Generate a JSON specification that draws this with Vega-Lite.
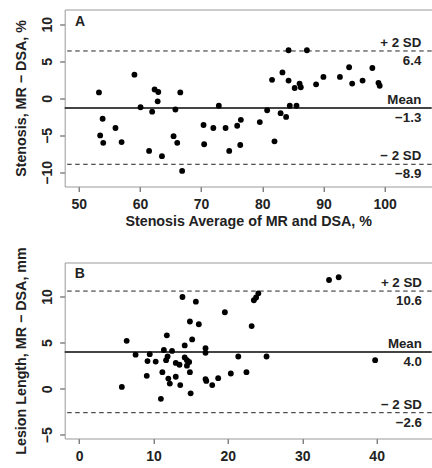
{
  "$schema": "https://vega.github.io/schema/vega-lite/v6.json",
  "padding": {"left": 14.7, "top": 9.5, "right": 0, "bottom": 0},
  "background": "white",
  "spacing": 76,
  "bounds": "flush",
  "config": {
    "font": "Liberation Sans",
    "view": {"stroke": null},
    "axis": {
      "grid": false, "domain": true, "domainColor": "#999", "domainWidth": 1, "tickSize": 5, "tickColor": "#444",
      "labelFont": "Liberation Sans", "labelFontWeight": "bold", "labelFontSize": 14, "labelColor": "#222",
      "titleFont": "Liberation Sans", "titleFontWeight": "bold", "titleFontSize": 14.3, "titleColor": "#222"
    },
    "text": {"font": "Liberation Sans", "fontWeight": "bold", "fontSize": 13.3, "color": "#222"}
  },
  "datasets": {
    "a_pts": [
      {"avg": 53.3, "diff": 0.8}, {"avg": 53.9, "diff": -2.75}, {"avg": 53.5, "diff": -5.0}, {"avg": 54.0, "diff": -6.0},
      {"avg": 56.0, "diff": -4.0}, {"avg": 57.0, "diff": -5.9}, {"avg": 59.1, "diff": 3.2}, {"avg": 60.1, "diff": -1.2},
      {"avg": 61.5, "diff": -7.1}, {"avg": 62.0, "diff": -1.8}, {"avg": 62.4, "diff": 1.2}, {"avg": 63.0, "diff": 0.86},
      {"avg": 62.9, "diff": -0.4}, {"avg": 63.6, "diff": -7.8}, {"avg": 65.5, "diff": -5.1}, {"avg": 65.8, "diff": -1.5},
      {"avg": 66.1, "diff": -6.0}, {"avg": 66.6, "diff": 0.8}, {"avg": 66.9, "diff": -9.8}, {"avg": 70.4, "diff": -3.6},
      {"avg": 70.5, "diff": -6.2}, {"avg": 72.0, "diff": -4.0}, {"avg": 72.9, "diff": -1.0}, {"avg": 74.0, "diff": -4.0},
      {"avg": 74.6, "diff": -7.1}, {"avg": 75.9, "diff": -3.7}, {"avg": 76.4, "diff": -6.3}, {"avg": 76.5, "diff": -2.9},
      {"avg": 79.6, "diff": -3.2}, {"avg": 80.8, "diff": -1.6}, {"avg": 81.6, "diff": 2.5}, {"avg": 82.0, "diff": -5.8},
      {"avg": 83.0, "diff": -2.0}, {"avg": 83.3, "diff": 3.5}, {"avg": 83.9, "diff": -2.5}, {"avg": 84.3, "diff": 6.5},
      {"avg": 84.3, "diff": 2.4}, {"avg": 84.5, "diff": -1.0}, {"avg": 85.3, "diff": 1.4}, {"avg": 85.6, "diff": -1.0},
      {"avg": 86.1, "diff": 2.0}, {"avg": 86.3, "diff": 1.5}, {"avg": 87.3, "diff": 6.5}, {"avg": 88.8, "diff": 1.9},
      {"avg": 90.0, "diff": 2.9}, {"avg": 92.7, "diff": 2.9}, {"avg": 94.2, "diff": 4.2}, {"avg": 94.7, "diff": 2.0},
      {"avg": 96.4, "diff": 2.4}, {"avg": 98.0, "diff": 4.1}, {"avg": 99.0, "diff": 2.1}, {"avg": 99.2, "diff": 1.7}
    ],
    "a_lines": [
      {"value": 6.4, "kind": "sd", "label": "+ 2 SD"},
      {"value": -1.3, "kind": "mean", "label": "Mean"},
      {"value": -8.9, "kind": "sd", "label": "\u2212 2 SD"}
    ],
    "b_pts": [
      {"avg": 5.75, "diff": 0.2}, {"avg": 6.4, "diff": 5.2}, {"avg": 7.6, "diff": 3.7}, {"avg": 9.1, "diff": 1.4},
      {"avg": 9.2, "diff": 3.0}, {"avg": 9.5, "diff": 3.75}, {"avg": 10.3, "diff": 2.95}, {"avg": 11.0, "diff": -1.1},
      {"avg": 11.2, "diff": 1.8}, {"avg": 11.4, "diff": 4.2}, {"avg": 11.7, "diff": 3.1}, {"avg": 11.8, "diff": 5.8},
      {"avg": 11.9, "diff": 3.5}, {"avg": 12.0, "diff": 1.1}, {"avg": 12.2, "diff": 0.56}, {"avg": 12.5, "diff": 4.1},
      {"avg": 13.0, "diff": 2.8}, {"avg": 13.0, "diff": 1.3}, {"avg": 13.5, "diff": 2.6}, {"avg": 13.6, "diff": 0.4},
      {"avg": 13.9, "diff": 9.96}, {"avg": 14.2, "diff": 4.7}, {"avg": 14.2, "diff": 3.4}, {"avg": 14.5, "diff": 3.1},
      {"avg": 14.5, "diff": 2.5}, {"avg": 14.8, "diff": 2.9}, {"avg": 14.9, "diff": 7.3}, {"avg": 14.9, "diff": 1.8},
      {"avg": 15.0, "diff": -0.5}, {"avg": 15.2, "diff": 5.35}, {"avg": 15.7, "diff": 9.45}, {"avg": 16.1, "diff": 7.0},
      {"avg": 17.0, "diff": 4.4}, {"avg": 17.0, "diff": 3.9}, {"avg": 17.0, "diff": 1.05}, {"avg": 17.1, "diff": 0.85},
      {"avg": 17.9, "diff": 0.4}, {"avg": 18.7, "diff": 1.15}, {"avg": 19.6, "diff": 8.3}, {"avg": 20.4, "diff": 1.65},
      {"avg": 21.4, "diff": 3.5}, {"avg": 22.5, "diff": 1.8}, {"avg": 23.2, "diff": 6.8}, {"avg": 23.5, "diff": 9.6},
      {"avg": 23.8, "diff": 9.9}, {"avg": 24.1, "diff": 10.35}, {"avg": 25.2, "diff": 3.5}, {"avg": 33.6, "diff": 11.8},
      {"avg": 34.9, "diff": 12.1}, {"avg": 39.8, "diff": 3.1}
    ],
    "b_lines": [
      {"value": 10.6, "kind": "sd", "label": "+ 2 SD"},
      {"value": 4.0, "kind": "mean", "label": "Mean"},
      {"value": -2.6, "kind": "sd", "label": "\u2212 2 SD"}
    ],
    "a_tag": [{"tag": "A"}],
    "b_tag": [{"tag": "B"}]
  },
  "vconcat": [
    {
      "width": 367,
      "height": 177,
      "resolve": {"axis": {"x": "independent", "y": "independent"}},
      "layer": [
        {"data": {"name": "a_lines"}, "transform": [{"filter": "datum.kind === 'sd'"}],
         "mark": {"type": "rule", "strokeDash": [4.5, 3.5], "color": "#222", "strokeWidth": 1},
         "encoding": {"y": {"field": "value", "type": "quantitative", "scale": {"domain": [-11.9, 12.0], "nice": false, "zero": false}, "axis": null}}},
        {"data": {"name": "a_lines"}, "transform": [{"filter": "datum.kind === 'mean'"}],
         "mark": {"type": "rule", "color": "#444", "strokeWidth": 2},
         "encoding": {"y": {"field": "value", "type": "quantitative", "axis": null}}},
        {"data": {"name": "a_pts"}, "mark": {"type": "point", "filled": true, "color": "black", "opacity": 1, "size": 34},
         "encoding": {
           "x": {"field": "avg", "type": "quantitative", "scale": {"domain": [47.7, 107.7], "nice": false, "zero": false},
                 "axis": {"values": [50, 60, 70, 80, 90, 100], "title": "Stenosis Average of MR and DSA, %", "labelPadding": 6, "titlePadding": 3}},
           "y": {"field": "diff", "type": "quantitative",
                 "axis": {"values": [-10, -5, 0, 5, 10], "title": "Stenosis, MR \u2212 DSA, %", "labelAngle": -90, "labelPadding": 5, "titlePadding": 12}}}},
        {"data": {"name": "a_lines"}, "mark": {"type": "text", "align": "right", "dy": -8},
         "encoding": {"x": {"datum": 106.0, "type": "quantitative", "axis": null}, "y": {"field": "value", "type": "quantitative", "axis": null}, "text": {"field": "label"}}},
        {"data": {"name": "a_lines"}, "mark": {"type": "text", "align": "right", "dy": 10},
         "encoding": {"x": {"datum": 106.0, "type": "quantitative", "axis": null}, "y": {"field": "value", "type": "quantitative", "axis": null}, "text": {"field": "value", "type": "quantitative", "format": ".1f"}}},
        {"data": {"name": "a_tag"}, "mark": {"type": "text", "align": "center", "fontSize": 14},
         "encoding": {"x": {"datum": 50.2, "type": "quantitative", "axis": {"orient": "top", "labels": false, "ticks": false, "title": null}},
                      "y": {"datum": 10.3, "type": "quantitative", "axis": null}, "text": {"field": "tag"}}}
      ]
    },
    {
      "width": 367,
      "height": 176,
      "resolve": {"axis": {"x": "independent", "y": "independent"}},
      "layer": [
        {"data": {"name": "b_lines"}, "transform": [{"filter": "datum.kind === 'sd'"}],
         "mark": {"type": "rule", "strokeDash": [4.5, 3.5], "color": "#222", "strokeWidth": 1},
         "encoding": {"y": {"field": "value", "type": "quantitative", "scale": {"domain": [-5.4, 13.7], "nice": false, "zero": false}, "axis": null}}},
        {"data": {"name": "b_lines"}, "transform": [{"filter": "datum.kind === 'mean'"}],
         "mark": {"type": "rule", "color": "#444", "strokeWidth": 2},
         "encoding": {"y": {"field": "value", "type": "quantitative", "axis": null}}},
        {"data": {"name": "b_pts"}, "mark": {"type": "point", "filled": true, "color": "black", "opacity": 1, "size": 34},
         "encoding": {
           "x": {"field": "avg", "type": "quantitative", "scale": {"domain": [-1.93, 47.4], "nice": false, "zero": false},
                 "axis": {"values": [0, 10, 20, 30, 40], "title": null, "labelPadding": 6}},
           "y": {"field": "diff", "type": "quantitative",
                 "axis": {"values": [-5, 0, 5, 10], "title": "Lesion Length, MR \u2212 DSA, mm", "labelAngle": -90, "labelPadding": 5, "titlePadding": 12}}}},
        {"data": {"name": "b_lines"}, "mark": {"type": "text", "align": "right", "dy": -8},
         "encoding": {"x": {"datum": 46.08, "type": "quantitative", "axis": null}, "y": {"field": "value", "type": "quantitative", "axis": null}, "text": {"field": "label"}}},
        {"data": {"name": "b_lines"}, "mark": {"type": "text", "align": "right", "dy": 10},
         "encoding": {"x": {"datum": 46.08, "type": "quantitative", "axis": null}, "y": {"field": "value", "type": "quantitative", "axis": null}, "text": {"field": "value", "type": "quantitative", "format": ".1f"}}},
        {"data": {"name": "b_tag"}, "mark": {"type": "text", "align": "center", "fontSize": 14},
         "encoding": {"x": {"datum": 0.1, "type": "quantitative", "axis": {"orient": "top", "labels": false, "ticks": false, "title": null}},
                      "y": {"datum": 12.4, "type": "quantitative", "axis": null}, "text": {"field": "tag"}}}
      ]
    }
  ]
}
